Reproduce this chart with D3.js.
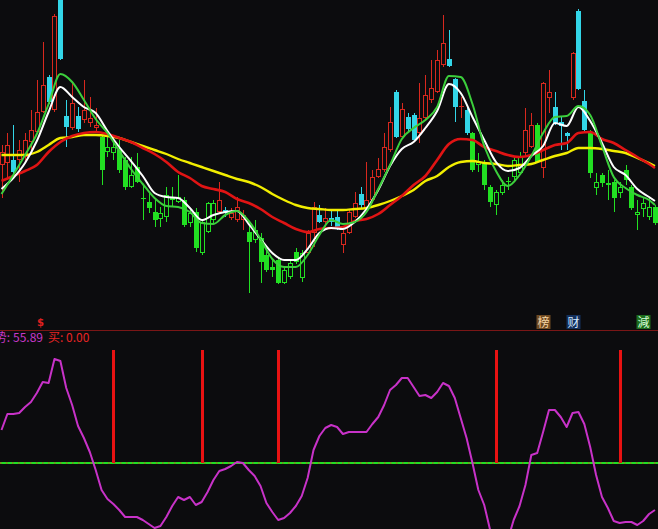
<!DOCTYPE html>
<html><head><meta charset="utf-8">
<script src="https://cdn.jsdelivr.net/npm/d3@7"></script>
<style>html,body{margin:0;padding:0;background:#0c0c0e;overflow:hidden}</style>
</head><body><svg id="c" width="658" height="529"></svg>
<script>
// ---------- DATA ----------
const days = d3.range(112);
const open = [16.5,16.7,17.0,17.0,17.3,18.8,19.8,21.8,25.3,22.0, 34.0,21.4,20.2,21.4,21.0,20.7,20.2,19.3,17.8,17.7, 18.0,17.0,14.3,16.3,13.2,12.8,11.8,11.1,11.3,13.0, 12.8,13.0,10.7,11.8,7.7,9.8,11.0,11.8,12.0,11.2, 11.0,11.0,9.8,9.0,9.2,7.5,6.3,7.0,4.7,5.3, 7.8,5.2,7.7,9.7,11.5,10.8,11.2,11.3,8.5,9.7, 11.3,13.6,12.2,13.0,15.3,16.0,18.0,23.8,19.3,21.3, 21.5,19.7,21.2,23.0,23.8,26.5,27.1,25.1,22.3,22.0, 19.7,16.5,16.7,14.3,12.5,13.7,14.8,15.3,15.7,17.7, 18.3,20.5,16.2,23.2,22.3,20.8,19.7,23.2,31.9,22.9, 19.8,14.2,15.5,14.7,14.8,13.7,16.0,14.3,11.5,12.1, 11.3,12.3];
const high = [18.5,19.7,20.5,19.0,19.7,22.0,25.0,28.8,25.5,31.6, 34.2,23.0,24.7,22.3,25.0,23.3,22.2,19.5,19.3,18.8, 19.0,17.3,17.3,17.7,14.5,13.8,13.0,12.3,14.3,14.3, 15.5,13.3,12.0,12.2,11.0,12.8,13.0,14.8,12.3,12.2, 13.3,12.0,10.8,11.0,9.7,8.3,7.2,7.3,6.3,7.0, 8.2,8.0,10.0,12.8,12.5,12.2,12.0,12.0,10.0,12.0, 13.8,14.3,16.8,16.0,17.2,19.7,22.3,24.0,22.7,21.7, 21.7,24.7,25.5,27.0,28.0,31.5,30.0,25.2,23.3,22.3, 19.8,17.7,17.0,14.5,14.0,15.0,15.3,17.2,17.8,22.2, 21.7,20.7,24.8,26.0,23.8,21.3,19.8,27.8,32.1,24.0, 20.0,15.7,15.7,16.0,15.0,14.8,16.5,14.5,13.0,13.2, 13.3,12.5];
const low = [13.2,15.0,15.5,14.8,16.7,18.0,19.7,21.7,22.6,21.8, 27.0,18.3,20.0,19.8,20.7,20.3,19.7,14.5,17.3,17.0, 15.7,14.0,14.2,14.7,11.0,11.7,10.3,10.3,10.8,12.3, 12.7,10.3,10.3,7.8,7.5,9.7,10.7,11.7,11.3,11.0, 10.8,10.0,3.7,8.7,4.7,5.8,5.3,4.6,4.6,5.1, 6.6,4.8,7.5,8.3,10.7,10.0,10.4,10.0,7.7,9.6, 11.2,12.2,11.7,12.7,15.2,15.8,17.8,19.2,19.2,19.8, 18.8,18.7,21.0,22.7,23.7,26.3,26.3,20.8,21.2,19.5, 15.8,15.8,14.0,12.3,11.5,13.5,14.0,15.0,15.5,17.3, 18.2,16.7,15.2,21.7,20.5,18.0,18.0,23.0,24.0,19.8, 15.2,13.5,14.3,13.0,11.8,13.2,14.5,12.0,10.0,11.3, 11.0,10.5];
const close = [17.8,18.5,15.8,18.0,19.0,20.0,21.8,24.5,22.8,31.4, 27.1,20.3,22.7,20.1,22.0,21.2,20.5,16.0,18.3,18.3, 16.0,14.3,15.5,14.8,13.1,12.2,11.0,11.7,13.5,13.2, 13.3,10.5,11.7,8.2,10.8,12.7,12.7,13.0,11.7,11.7, 12.3,11.5,8.8,10.0,6.8,6.0,6.0,4.7,6.0,6.7, 6.8,7.7,9.7,12.3,10.8,11.2,10.8,10.3,9.7,11.8, 12.7,12.5,13.0,15.3,16.1,18.3,20.8,19.3,22.1,20.1, 19.0,21.2,23.5,24.2,27.0,28.7,26.4,22.3,22.4,19.7, 16.0,16.8,14.5,12.8,13.8,14.5,14.9,17.0,17.3,20.0, 20.5,16.8,24.7,23.8,20.7,20.4,19.4,27.7,24.1,20.0, 15.7,14.8,14.7,14.5,13.2,14.3,15.0,12.2,11.8,12.7, 12.3,10.7];
// 1 = strong regime (red / cyan candles), 0 = weak regime (green candles)
const trend = [1,1,1,1,1,1,1,1,1,1, 1,1,1,1,1,1,1,0,0,0, 0,0,0,0,0,0,0,0,0,0, 0,0,0,0,0,0,0,1,1,1, 1,1,0,0,0,0,0,0,0,0, 0,0,1,1,1,1,1,1,1,1, 1,1,1,1,1,1,1,1,1,1, 1,1,1,1,1,1,1,1,1,1, 0,0,0,0,0,0,0,0,0,1, 1,0,1,1,1,1,1,1,1,1, 0,0,0,0,0,0,0,0,0,0, 0,0];
// moving averages sampled every second session (+ last)
const maDays = [0,2,4,6,8,10,12,14,16,18,20,22,24,26,28,30,32,34,36,38,40,42,44,46,48,50,52,54,56,58,60,62,64,66,68,70,72,74,76,78,80,82,84,86,88,90,92,94,96,98,100,102,104,106,108,110,111];
const maWhite = [14.1,15.2,16.7,18.9,21.8,24.3,23.3,22.3,21.7,19.9, 18.3,16.9,15.4,13.7,13.3,13.2,12.2,11.0,11.5,11.8, 11.9,10.6,9.1,7.7,7.0,7.0,8.1,9.7,10.2,10.1, 10.8,12.1,14.0,16.4,18.1,18.8,20.2,21.9,24.6,23.7, 21.3,19.0,16.8,15.9,16.2,17.4,18.4,20.7,20.4,22.3, 20.9,18.7,16.3,15.5,14.1,13.3,12.9];
const maGreen = [13.6,15.5,17.5,19.6,22.6,25.6,24.8,23.0,21.1,19.7, 17.9,16.1,14.6,13.2,12.4,12.3,11.8,10.7,10.6,11.5, 11.9,10.9,9.1,7.1,6.3,6.3,7.5,9.5,11.0,10.6, 10.8,11.8,14.1,16.5,19.1,20.2,21.0,22.3,25.4,25.3, 22.6,18.4,15.9,14.4,15.5,17.4,19.7,21.3,21.4,22.4, 21.5,18.4,15.3,14.2,13.5,13.0,12.5];
const maRed = [14.9,15.4,15.9,16.5,17.8,18.8,19.4,19.7,19.8,19.6, 19.2,18.8,18.2,17.6,16.8,15.8,15.2,14.4,14.1,13.8, 13.1,12.7,12.1,11.3,10.7,10.1,9.8,10.1,10.2,10.3, 10.9,11.1,11.6,12.5,13.4,14.5,15.4,17.0,18.6,19.1, 19.0,18.3,17.9,17.5,17.3,17.5,18.0,18.5,18.7,19.7, 19.8,19.1,18.7,18.0,17.3,16.6,16.2];
const maYellow = [17.5,17.5,17.5,17.8,18.5,19.2,19.3,19.5,19.5,19.4, 19.2,18.8,18.4,18.0,17.6,17.1,16.7,16.3,15.9,15.5, 15.1,14.8,14.3,13.6,13.0,12.5,12.2,12.1,12.0,12.0, 12.1,12.2,12.5,12.9,13.4,14.0,14.9,15.4,16.3,16.8, 16.9,16.7,16.6,16.4,16.5,16.6,17.0,17.4,17.7,18.2, 18.2,18.1,17.9,17.7,17.2,16.7,16.4];
// oscillator (lower panel)
const osc = [33,49,49,50,56,61,70,81,80,104, 102,75,58,37,25,11,-7,-27,-36,-41, -47,-54,-54,-54,-57,-61,-65,-63,-54,-43, -34,-37,-34,-42,-39,-29,-17,-8,-6,-3, 1,0,-7,-13,-23,-40,-49,-57,-55,-50, -43,-33,-15,13,27,35,38,36,29,31, 31,31,31,39,46,58,73,78,85,85, 76,67,68,65,71,80,77,65,45,25, 0,-27,-42,-67,-82,-87,-77,-57,-43,-22, 8,10,31,53,53,46,36,50,51,39, 16,-12,-34,-45,-58,-60,-59,-59,-62,-58, -51,-47];
const buyDays = [19, 34, 47, 84, 105];
const buyLevel = 113;
const oscName = "趋势", oscValue = "55.89", buyName = "买", buyValue = "0.00";
const markerDays = [92, 97, 109];
const markerLabels = ["榜", "财", "減"];
const markerFills = ["#6e4a22", "#14305c", "#1d6c1d"];
const markerInk = ["#f6d6a6", "#d2e8ff", "#d8ffd8"];
const dollarDay = 7;

// ---------- STYLE ----------
const BG = "#0c0c0e", RED = "#d8281e", CYAN = "#33d6e8", GREEN = "#22e022";
const W = 658, H = 529;
const svg = d3.select("#c");
svg.append("rect").attr("width", W).attr("height", H).attr("fill", BG);
const defs = svg.append("defs");
defs.append("clipPath").attr("id", "ct").append("rect").attr("x", 0).attr("y", 0).attr("width", W).attr("height", 311);
defs.append("clipPath").attr("id", "cb").append("rect").attr("x", 0).attr("y", 331).attr("width", W).attr("height", H - 331);

const x = d3.scaleBand().domain(days).range([-1.44, 657.9]).padding(0);
const cx = i => x(i) + x.bandwidth() / 2;
const y = d3.scaleLinear().domain([3, 33]).range([300, 0]);

// ---------- CANDLES ----------
const gTop = svg.append("g").attr("clip-path", "url(#ct)");
gTop.selectAll("g.k").data(days).join("g").attr("class", "k").each(function (i) {
  const g = d3.select(this);
  const o = open[i], c = close[i], h = high[i], l = low[i];
  const upC = c >= o;
  const col = trend[i] ? (upC ? RED : CYAN) : GREEN;
  const X = Math.round(cx(i));
  const yt = Math.round(y(Math.max(o, c))), yb = Math.round(y(Math.min(o, c)));
  const yh = Math.round(y(h)), yl = Math.round(y(l));
  if (upC) {
    if (yb - yt < 2) {
      g.append("line").attr("x1", X + 0.5).attr("x2", X + 0.5).attr("y1", yh).attr("y2", yl).attr("stroke", col);
      g.append("line").attr("x1", X - 2).attr("x2", X + 3).attr("y1", yt + 0.5).attr("y2", yt + 0.5).attr("stroke", col);
    } else {
      if (yt > yh) g.append("line").attr("x1", X + 0.5).attr("x2", X + 0.5).attr("y1", yh).attr("y2", yt).attr("stroke", col);
      if (yl > yb) g.append("line").attr("x1", X + 0.5).attr("x2", X + 0.5).attr("y1", yb).attr("y2", yl).attr("stroke", col);
      g.append("rect").attr("x", X - 1.5).attr("y", yt + 0.5).attr("width", 4).attr("height", yb - yt - 1)
        .attr("fill", BG).attr("stroke", col).attr("stroke-width", 1);
    }
  } else {
    g.append("line").attr("x1", X + 0.5).attr("x2", X + 0.5).attr("y1", yh).attr("y2", yl).attr("stroke", col);
    g.append("rect").attr("x", X - 2).attr("y", yt).attr("width", 5).attr("height", Math.max(yb - yt, 1)).attr("fill", col);
  }
});

// ---------- MOVING AVERAGES ----------
const maLine = d3.line().x(d => cx(d.d)).y(d => y(d.v)).curve(d3.curveMonotoneX);
const mas = [
  { v: maYellow, c: "#f2ee00", w: 2.4 },
  { v: maRed, c: "#e01414", w: 2.6 },
  { v: maWhite, c: "#ffffff", w: 2 },
  { v: maGreen, c: "#3ccf3c", w: 2 }
];
gTop.selectAll("path.ma").data(mas).join("path").attr("class", "ma")
  .attr("d", m => maLine(m.v.map((v, k) => ({ d: maDays[k], v }))))
  .attr("fill", "none").attr("stroke", m => m.c).attr("stroke-width", m => m.w).attr("stroke-linejoin", "round");

// ---------- MARKER ROW ----------
svg.append("text").attr("x", x(dollarDay) + 0.8).attr("y", 326).attr("text-anchor", "middle")
  .attr("font-family", "DejaVu Sans, sans-serif").attr("font-weight", "bold").attr("font-size", 10)
  .attr("fill", "#e02020").text("$");
const mk = svg.selectAll("g.mk").data(markerDays).join("g").attr("class", "mk");
mk.append("rect").attr("x", d => Math.round(cx(d)) - 6.5).attr("y", 315).attr("width", 14).attr("height", 14)
  .attr("fill", (d, k) => markerFills[k]);
mk.append("text").attr("x", d => Math.round(cx(d)) + 0.5).attr("y", 327).attr("text-anchor", "middle")
  .attr("font-family", "'Noto Sans CJK SC', sans-serif").attr("font-size", 12)
  .attr("fill", (d, k) => markerInk[k]).text((d, k) => markerLabels[k]);

// separator
svg.append("line").attr("x1", 0).attr("x2", W).attr("y1", 330.5).attr("y2", 330.5).attr("stroke", "#7a1616");

// ---------- LOWER PANEL ----------
const yO = d3.scaleLinear().domain([-66, 133]).range([529, 330]);
const gB = svg.append("g").attr("clip-path", "url(#cb)");
gB.append("line").attr("x1", 0).attr("x2", W).attr("y1", yO(0)).attr("y2", yO(0))
  .attr("stroke", "#22dd22").attr("stroke-width", 2);
gB.append("line").attr("x1", 0).attr("x2", W).attr("y1", yO(0)).attr("y2", yO(0))
  .attr("stroke", "#c84a1a").attr("stroke-width", 1).attr("stroke-dasharray", "1.5,4.5");
gB.selectAll("line.buy").data(buyDays).join("line").attr("class", "buy")
  .attr("x1", d => Math.round(cx(d)) + 0.5).attr("x2", d => Math.round(cx(d)) + 0.5)
  .attr("y1", yO(0)).attr("y2", yO(buyLevel)).attr("stroke", "#e81212").attr("stroke-width", 3);
const oscLine = d3.line().x((v, i) => cx(i)).y(v => yO(v));
gB.append("path").attr("d", oscLine(osc)).attr("fill", "none").attr("stroke", "#c832c8")
  .attr("stroke-width", 2).attr("stroke-linejoin", "round");

// label
const lf = "'Noto Sans CJK SC', sans-serif";
svg.append("text").attr("x", 10).attr("y", 342).attr("text-anchor", "end").attr("font-family", lf)
  .attr("font-size", 12).attr("fill", "#c838c8").text(oscName + ":");
svg.append("text").attr("x", 13).attr("y", 342).attr("font-family", lf)
  .attr("font-size", 12).attr("fill", "#c838c8").text(oscValue);
svg.append("text").attr("x", 48).attr("y", 342).attr("font-family", lf)
  .attr("font-size", 12).attr("fill", "#e82424").text(buyName + ": " + buyValue);
</script></body></html>
